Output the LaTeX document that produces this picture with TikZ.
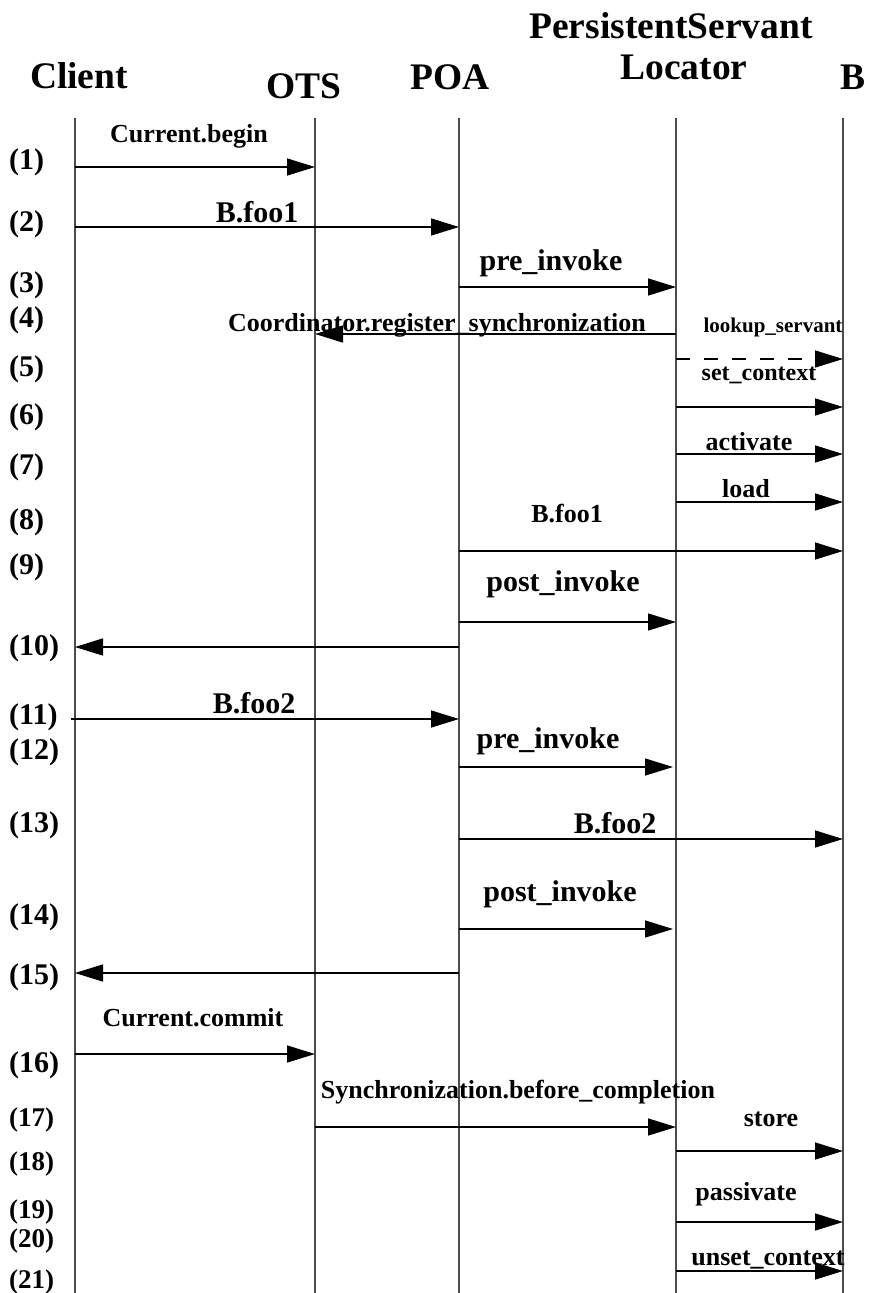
\documentclass[tikz,border=0pt]{standalone}
\usepackage{fontspec}
\setmainfont{Liberation Serif}
\usetikzlibrary{arrows.meta}

\newcommand{\fs}[1]{\fontsize{#1}{#1}\selectfont\bfseries}

\tikzset{
  lifeline/.style={draw=black!70, line width=1.5pt},
  msg/.style={draw=black, line width=1.4pt, -{Triangle[length=28pt,width=17pt]}},
  asyncmsg/.style={msg, dash pattern=on 14pt off 14pt},
  head/.style={inner sep=0pt, anchor=base, font=\fs{37.5}},
  lbl/.style={inner sep=0pt, anchor=base, font=\fs{26}},
  biglbl/.style={inner sep=0pt, anchor=base, font=\fs{30}},
  smalllbl/.style={inner sep=0pt, anchor=base, font=\fs{21}},
  num/.style={inner sep=0pt, anchor=base west, font=\fs{30}},
  smallnum/.style={inner sep=0pt, anchor=base west, font=\fs{27}},
}

\begin{document}
\begin{tikzpicture}[x=1pt, y=-1pt]
\useasboundingbox (0,0) rectangle (870,1293);

% participants
\node[head] (hClient) at (79,88) {Client};
\node[head] (hOTS) at (304,98) {OTS};
\node[head] (hPOA) at (450,89) {POA};
\node[head] (hPSL1) at (671,38) {PersistentServant};
\node[head] (hPSL2) at (684,79) {Locator};
\node[head] (hB) at (853,89) {B};

% lifelines
\coordinate (Lc) at (75,118);  \coordinate (Lc') at (75,1293);
\coordinate (Lo) at (315,118); \coordinate (Lo') at (315,1293);
\coordinate (Lp) at (459,118); \coordinate (Lp') at (459,1293);
\coordinate (Ll) at (676,118); \coordinate (Ll') at (676,1293);
\coordinate (Lb) at (843,118); \coordinate (Lb') at (843,1293);
\foreach \a in {Lc,Lo,Lp,Ll,Lb} \draw[lifeline] (\a) -- (\a');

% step numbers
\node[num] (n1) at (9,169) {(1)};
\node[num] (n2) at (9,231) {(2)};
\node[num] (n3) at (9,292) {(3)};
\node[num] (n4) at (9,327) {(4)};
\node[num] (n5) at (9,376) {(5)};
\node[num] (n6) at (9,424) {(6)};
\node[num] (n7) at (9,474) {(7)};
\node[num] (n8) at (9,529) {(8)};
\node[num] (n9) at (9,574) {(9)};
\node[num] (n10) at (9,655) {(10)};
\node[num] (n11) at (9,724) {(11)};
\node[num] (n12) at (9,759) {(12)};
\node[num] (n13) at (9,832) {(13)};
\node[num] (n14) at (9,924) {(14)};
\node[num] (n15) at (9,984) {(15)};
\node[num] (n16) at (9,1072) {(16)};
\node[smallnum] (n17) at (9,1126) {(17)};
\node[smallnum] (n18) at (9,1170) {(18)};
\node[smallnum] (n19) at (9,1218) {(19)};
\node[smallnum] (n20) at (9,1247) {(20)};
\node[smallnum] (n21) at (9,1288) {(21)};

% messages
\draw[msg] (Lc |- 0,167) -- (Lo |- 0,167);
\node[lbl] (m1) at (189,142) {Current.begin};

\draw[msg] (Lc |- 0,227) -- (Lp |- 0,227);
\node[biglbl] (m2) at (257,222) {B.foo1};

\draw[msg] (Lp |- 0,287) -- (Ll |- 0,287);
\node[biglbl] (m3) at (551,270) {pre\_invoke};

\draw[msg] (Ll |- 0,334) -- (Lo |- 0,334);
\node[lbl] (m4) at (437,331) {Coordinator.register\_synchronization};
\node[smalllbl] (m4b) at (773,332) {lookup\_servant};

\draw[asyncmsg] (Ll |- 0,359) -- (Lb |- 0,359);
\node[lbl, font=\fs{24}] (m5) at (759,380) {set\_context};

\draw[msg] (Ll |- 0,407) -- (Lb |- 0,407);

\draw[msg] (Ll |- 0,454) -- (Lb |- 0,454);
\node[lbl] (m7) at (749,450) {activate};

\draw[msg] (Ll |- 0,502) -- (Lb |- 0,502);
\node[lbl] (m8) at (746,497) {load};
\node[lbl] (m8b) at (567,522) {B.foo1};

\draw[msg] (Lp |- 0,551) -- (Lb |- 0,551);

\draw[msg] (Lp |- 0,622) -- (Ll |- 0,622);
\node[biglbl] (m9) at (563,591) {post\_invoke};

\draw[msg] (Lp |- 0,647) -- (Lc |- 0,647);

\draw[msg] (71,719) -- (Lp |- 0,719);
\node[biglbl] (m11) at (254,713) {B.foo2};

\draw[msg, shorten >=3pt] (Lp |- 0,767) -- (Ll |- 0,767);
\node[biglbl] (m12) at (548,748) {pre\_invoke};

\draw[msg] (Lp |- 0,839) -- (Lb |- 0,839);
\node[biglbl] (m13) at (615,833) {B.foo2};

\draw[msg, shorten >=3pt] (Lp |- 0,929) -- (Ll |- 0,929);
\node[biglbl] (m14) at (560,901) {post\_invoke};

\draw[msg] (Lp |- 0,973) -- (Lc |- 0,973);

\draw[msg] (Lc |- 0,1054) -- (Lo |- 0,1054);
\node[lbl] (m16) at (193,1026) {Current.commit};

\draw[msg] (Lo |- 0,1127) -- (Ll |- 0,1127);
\node[lbl] (m17) at (518,1098) {Synchronization.before\_completion};

\draw[msg] (Ll |- 0,1151) -- (Lb |- 0,1151);
\node[lbl] (m18) at (771,1126) {store};

\draw[msg] (Ll |- 0,1222) -- (Lb |- 0,1222);
\node[lbl] (m19) at (746,1200) {passivate};

\draw[msg] (Ll |- 0,1271) -- (Lb |- 0,1271);
\node[lbl] (m21) at (768,1265) {unset\_context};
\end{tikzpicture}
\end{document}
